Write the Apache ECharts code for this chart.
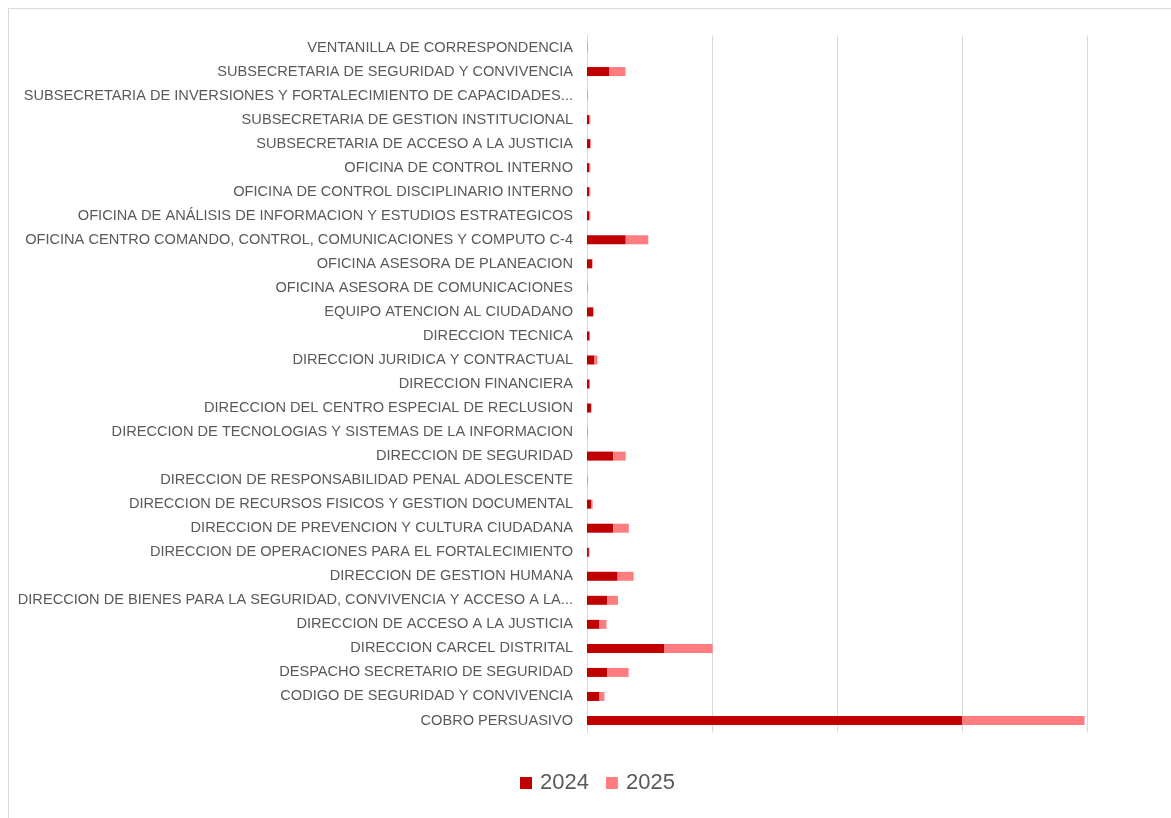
<!DOCTYPE html>
<html><head><meta charset="utf-8">
<script src="https://cdn.jsdelivr.net/npm/echarts@6/dist/echarts.min.js"></script>
<style>
html,body{margin:0;padding:0;background:#fff;}
#frame{position:absolute;left:8px;top:8px;width:1170px;height:820px;border:1px solid #d9d9d9;box-sizing:border-box;}
#chart{position:absolute;left:0;top:0;width:1171px;height:818px;}
</style></head>
<body>
<div id="frame"></div>
<div id="chart"></div>
<script>
const categories = [
"VENTANILLA DE CORRESPONDENCIA",
"SUBSECRETARIA DE SEGURIDAD Y CONVIVENCIA",
"SUBSECRETARIA DE INVERSIONES Y FORTALECIMIENTO DE CAPACIDADES...",
"SUBSECRETARIA DE GESTION INSTITUCIONAL",
"SUBSECRETARIA DE ACCESO A LA JUSTICIA",
"OFICINA DE CONTROL INTERNO",
"OFICINA DE CONTROL DISCIPLINARIO INTERNO",
"OFICINA DE ANÁLISIS DE INFORMACION Y ESTUDIOS ESTRATEGICOS",
"OFICINA CENTRO COMANDO, CONTROL, COMUNICACIONES Y COMPUTO C-4",
"OFICINA ASESORA DE PLANEACION",
"OFICINA ASESORA DE COMUNICACIONES",
"EQUIPO ATENCION AL CIUDADANO",
"DIRECCION TECNICA",
"DIRECCION JURIDICA Y CONTRACTUAL",
"DIRECCION FINANCIERA",
"DIRECCION DEL CENTRO ESPECIAL DE RECLUSION",
"DIRECCION DE TECNOLOGIAS Y SISTEMAS DE LA INFORMACION",
"DIRECCION DE SEGURIDAD",
"DIRECCION DE RESPONSABILIDAD PENAL ADOLESCENTE",
"DIRECCION DE RECURSOS FISICOS Y GESTION DOCUMENTAL",
"DIRECCION DE PREVENCION Y CULTURA CIUDADANA",
"DIRECCION DE OPERACIONES PARA EL FORTALECIMIENTO",
"DIRECCION DE GESTION HUMANA",
"DIRECCION DE BIENES PARA LA SEGURIDAD, CONVIVENCIA Y ACCESO A LA...",
"DIRECCION DE ACCESO A LA JUSTICIA",
"DIRECCION CARCEL DISTRITAL",
"DESPACHO SECRETARIO DE SEGURIDAD",
"CODIGO DE SEGURIDAD Y CONVIVENCIA",
"COBRO PERSUASIVO"
];
const values2024 = [0, 18, 0, 2, 2.7, 2, 2, 2, 31, 4, 0, 4.8, 2, 6, 2, 3.2, 0, 21, 0, 3.5, 21, 1.5, 24.5, 16, 10, 62, 16, 10, 300];
const values2025 = [0.6, 12.8, 0.6, 0.6, 0.4, 0.6, 0.6, 0.6, 18, 0.5, 0.6, 0.5, 0.4, 2.4, 0.4, 0.4, 0.6, 10, 0.6, 1, 12.5, 0.5, 12.8, 8.8, 5.6, 38.5, 17.3, 4, 98];
const seriesNames = ["2024", "2025"];
const xTicks = [0, 100, 200, 300, 400];

const chart = echarts.init(document.getElementById('chart'), null, {renderer:'canvas'});
chart.setOption({
  animation:false,
  grid:{left:587, right:84, top:35.5, bottom:85.5, containLabel:false},
  legend:{
    data:seriesNames, top:767, left:515, itemWidth:12, itemHeight:12, itemGap:17,
    icon:'rect',
    textStyle:{color:'#595959', fontSize:22, padding:[0,0,0,3], fontFamily:'Liberation Sans, Arial, sans-serif'}
  },
  xAxis:{
    type:'value', min:xTicks[0], max:xTicks[xTicks.length-1], interval:100,
    axisLabel:{show:false}, axisLine:{show:false}, axisTick:{show:false},
    splitLine:{show:true, lineStyle:{color:'#d9d9d9', width:1}}
  },
  yAxis:{
    type:'category', data:categories, inverse:true,
    axisTick:{show:false},
    axisLine:{show:true, lineStyle:{color:'#d9d9d9'}},
    axisLabel:{color:'#595959', fontSize:14.6, margin:14, fontFamily:'Liberation Sans, Arial, sans-serif', interval:0}
  },
  series:[
    {name:seriesNames[0], type:'bar', stack:'t', data:values2024, barWidth:9, itemStyle:{color:'#C00000'}},
    {name:seriesNames[1], type:'bar', stack:'t', data:values2025, barWidth:9, itemStyle:{color:'#FF7C80'}}
  ]
});
</script>
</body></html>
